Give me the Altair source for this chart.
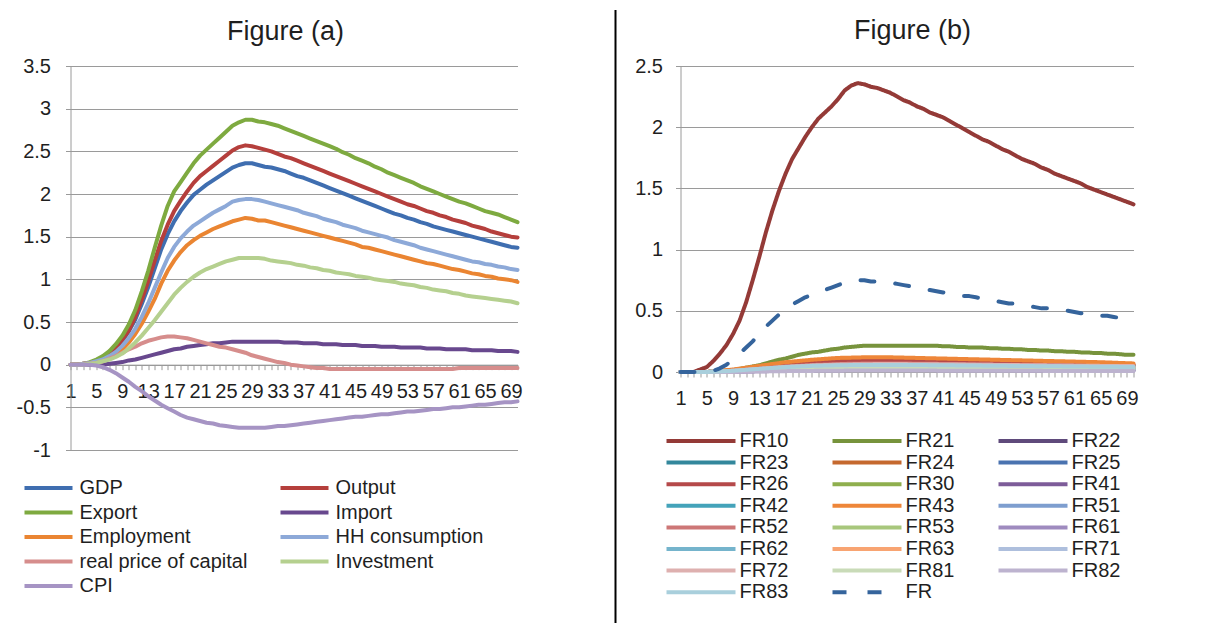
import altair as alt
import pandas as pd

FONT = "Liberation Sans"
TEXT = "#1f1f1f"
GRID = "#9a9a9a"

PERIODS = list(range(1, 71))
# the many small regional responses are read at every fourth period
SPARSE_PERIODS = [1, 5, 9, 13, 17, 21, 25, 29, 33, 37, 41, 45, 49, 53, 57, 61, 65, 70]

# ---------------- Figure (a): macro aggregates ----------------
LEFT_SERIES = ["GDP", "Output", "Export", "Import", "Employment",
               "HH consumption", "real price of capital", "Investment", "CPI"]
LEFT_COLORS = ["#3F6EB0", "#B53F3C", "#7EAA40", "#68488E", "#EA8532",
               "#8DA9D8", "#D68D8C", "#B5D08F", "#A694C4"]

GDP = [0, 0, 0.01, 0.02, 0.04, 0.07, 0.12, 0.19, 0.28, 0.39, 0.53, 0.71, 0.91, 1.13, 1.35,
       1.53, 1.68, 1.8, 1.9, 1.99, 2.05, 2.11, 2.16, 2.21, 2.26, 2.31, 2.34, 2.36, 2.36, 2.34,
       2.32, 2.31, 2.29, 2.27, 2.24, 2.21, 2.19, 2.16, 2.13, 2.1, 2.07, 2.04, 2.01, 1.98, 1.95,
       1.92, 1.89, 1.86, 1.83, 1.8, 1.77, 1.75, 1.72, 1.7, 1.67, 1.65, 1.62, 1.6, 1.58, 1.56,
       1.54, 1.52, 1.5, 1.48, 1.46, 1.44, 1.42, 1.4, 1.38, 1.37]
OUTPUT = [0, 0, 0.01, 0.02, 0.05, 0.08, 0.13, 0.2, 0.29, 0.4, 0.56, 0.76, 0.98, 1.22, 1.45,
          1.64, 1.8, 1.92, 2.03, 2.13, 2.21, 2.27, 2.33, 2.39, 2.45, 2.51, 2.55, 2.57, 2.56, 2.54,
          2.52, 2.5, 2.47, 2.44, 2.42, 2.39, 2.36, 2.33, 2.3, 2.27, 2.24, 2.21, 2.18, 2.15, 2.12,
          2.09, 2.06, 2.03, 2.0, 1.97, 1.94, 1.91, 1.88, 1.86, 1.83, 1.8, 1.78, 1.75, 1.73, 1.7,
          1.68, 1.66, 1.63, 1.61, 1.59, 1.56, 1.54, 1.52, 1.5, 1.49]
EXPORT = [0, 0, 0.01, 0.03, 0.06, 0.1, 0.16, 0.24, 0.34, 0.47, 0.64, 0.86, 1.1, 1.37, 1.63,
          1.86, 2.03, 2.14, 2.25, 2.36, 2.45, 2.52, 2.59, 2.66, 2.73, 2.8, 2.84, 2.87, 2.87, 2.85,
          2.84, 2.82, 2.8, 2.77, 2.74, 2.71, 2.68, 2.65, 2.62, 2.59, 2.56, 2.53, 2.49, 2.46, 2.42,
          2.39, 2.36, 2.32, 2.29, 2.25, 2.22, 2.19, 2.16, 2.13, 2.09, 2.06, 2.03, 2.0, 1.97, 1.94,
          1.91, 1.89, 1.86, 1.83, 1.8, 1.78, 1.76, 1.73, 1.7, 1.67]
IMPORT = [0, 0, 0, 0, 0, 0.0, 0.01, 0.02, 0.03, 0.05, 0.06, 0.08, 0.1, 0.12, 0.14,
          0.16, 0.18, 0.19, 0.21, 0.22, 0.23, 0.24, 0.25, 0.25, 0.26, 0.27, 0.27, 0.27, 0.27, 0.27,
          0.27, 0.27, 0.27, 0.26, 0.26, 0.26, 0.25, 0.25, 0.25, 0.24, 0.24, 0.24, 0.23, 0.23, 0.23,
          0.22, 0.22, 0.22, 0.21, 0.21, 0.21, 0.2, 0.2, 0.2, 0.2, 0.19, 0.19, 0.19, 0.18, 0.18,
          0.18, 0.18, 0.17, 0.17, 0.17, 0.17, 0.16, 0.16, 0.16, 0.15]
EMPLOYMENT = [0, 0, 0.01, 0.02, 0.03, 0.05, 0.08, 0.12, 0.18, 0.26, 0.36, 0.48, 0.62, 0.77, 0.95,
              1.1, 1.22, 1.32, 1.4, 1.46, 1.51, 1.55, 1.59, 1.62, 1.65, 1.68, 1.7, 1.72, 1.71, 1.69,
              1.69, 1.67, 1.65, 1.63, 1.61, 1.59, 1.57, 1.55, 1.53, 1.51, 1.49, 1.47, 1.45, 1.43, 1.41,
              1.38, 1.37, 1.35, 1.33, 1.31, 1.29, 1.27, 1.25, 1.23, 1.21, 1.19, 1.18, 1.16, 1.14, 1.12,
              1.11, 1.09, 1.07, 1.06, 1.04, 1.03, 1.01, 1.0, 0.99, 0.97]
HH_CONSUMPTION = [0, 0, 0.01, 0.02, 0.04, 0.06, 0.1, 0.15, 0.22, 0.31, 0.42, 0.56, 0.72, 0.9, 1.08,
                  1.25, 1.38, 1.48, 1.56, 1.63, 1.68, 1.73, 1.78, 1.82, 1.86, 1.91, 1.93, 1.94, 1.94, 1.93,
                  1.91, 1.89, 1.87, 1.85, 1.83, 1.81, 1.78, 1.76, 1.74, 1.71, 1.69, 1.67, 1.64, 1.62, 1.6,
                  1.57, 1.55, 1.53, 1.51, 1.49, 1.46, 1.44, 1.42, 1.4, 1.37, 1.35, 1.33, 1.31, 1.29, 1.27,
                  1.25, 1.23, 1.21, 1.2, 1.18, 1.17, 1.15, 1.14, 1.12, 1.11]
PRICE_OF_CAPITAL = [0, 0, 0, 0.01, 0.02, 0.04, 0.07, 0.1, 0.14, 0.18, 0.21, 0.25, 0.28, 0.3, 0.32,
                    0.33, 0.33, 0.32, 0.31, 0.29, 0.27, 0.25, 0.23, 0.21, 0.2, 0.18, 0.16, 0.14, 0.11, 0.09,
                    0.07, 0.05, 0.03, 0.02, 0.0, -0.01, -0.02, -0.03, -0.04, -0.04, -0.05, -0.05, -0.05, -0.05, -0.05,
                    -0.05, -0.05, -0.05, -0.05, -0.05, -0.05, -0.05, -0.05, -0.05, -0.05, -0.05, -0.05, -0.05, -0.05, -0.05,
                    -0.04, -0.04, -0.04, -0.04, -0.04, -0.04, -0.04, -0.04, -0.04, -0.04]
INVESTMENT = [0, 0, 0.0, 0.01, 0.02, 0.04, 0.06, 0.09, 0.13, 0.19, 0.26, 0.34, 0.43, 0.52, 0.62,
              0.72, 0.82, 0.9, 0.97, 1.03, 1.08, 1.12, 1.15, 1.18, 1.21, 1.23, 1.25, 1.25, 1.25, 1.25,
              1.24, 1.22, 1.21, 1.2, 1.19, 1.17, 1.16, 1.14, 1.13, 1.11, 1.1, 1.08, 1.07, 1.06, 1.04,
              1.03, 1.02, 1.0, 0.99, 0.98, 0.97, 0.95, 0.94, 0.93, 0.91, 0.9, 0.88, 0.87, 0.86, 0.84,
              0.83, 0.81, 0.8, 0.79, 0.78, 0.77, 0.76, 0.75, 0.74, 0.72]
CPI = [0, 0, 0, 0, -0.01, -0.03, -0.06, -0.1, -0.15, -0.2, -0.26, -0.31, -0.37, -0.42, -0.47,
       -0.51, -0.55, -0.59, -0.62, -0.64, -0.66, -0.68, -0.69, -0.71, -0.72, -0.73, -0.74, -0.74, -0.74, -0.74,
       -0.74, -0.73, -0.72, -0.72, -0.71, -0.7, -0.69, -0.68, -0.67, -0.66, -0.65, -0.64, -0.63, -0.62, -0.61,
       -0.61, -0.6, -0.59, -0.58, -0.58, -0.57, -0.56, -0.55, -0.55, -0.54, -0.53, -0.52, -0.52, -0.51, -0.5,
       -0.5, -0.49, -0.48, -0.47, -0.47, -0.46, -0.45, -0.44, -0.44, -0.43]

LEFT_VALUES = [GDP, OUTPUT, EXPORT, IMPORT, EMPLOYMENT, HH_CONSUMPTION,
               PRICE_OF_CAPITAL, INVESTMENT, CPI]
LEFT_TICKS = [-1, -0.5, 0, 0.5, 1, 1.5, 2, 2.5, 3, 3.5]

# ---------------- Figure (b): regional responses ----------------
RIGHT_SERIES = ["FR10", "FR21", "FR22", "FR23", "FR24", "FR25", "FR26", "FR30",
                "FR41", "FR42", "FR43", "FR51", "FR52", "FR53", "FR61", "FR62",
                "FR63", "FR71", "FR72", "FR81", "FR82", "FR83", "FR"]
RIGHT_COLORS = ["#943A37", "#77933C", "#5F4A7B", "#33879C", "#C5692E", "#4A73B0",
                "#B5494A", "#8FAF4E", "#7D5C99", "#44A3BA", "#EE8639", "#7E9ECF",
                "#CD7777", "#A8C77C", "#9F8BBF", "#75B4CC", "#F8A472", "#AEBFDD",
                "#DEB0AF", "#C9DBB8", "#BDB3CF", "#A9CFDC", "#35649C"]

FR10 = [0, 0, 0.0, 0.02, 0.04, 0.09, 0.15, 0.22, 0.31, 0.42, 0.57, 0.75, 0.94, 1.14, 1.32,
        1.48, 1.62, 1.74, 1.83, 1.92, 2.0, 2.07, 2.12, 2.17, 2.23, 2.3, 2.34, 2.36, 2.35, 2.33,
        2.32, 2.3, 2.28, 2.25, 2.22, 2.2, 2.17, 2.15, 2.12, 2.1, 2.08, 2.05, 2.02, 1.99, 1.96,
        1.93, 1.9, 1.88, 1.85, 1.82, 1.8, 1.77, 1.74, 1.72, 1.7, 1.67, 1.65, 1.62, 1.6, 1.58,
        1.56, 1.54, 1.51, 1.49, 1.47, 1.45, 1.43, 1.41, 1.39, 1.37]
FR21 = [0, 0, 0, 0, 0, 0.0, 0.005, 0.01, 0.015, 0.025, 0.035, 0.045, 0.055, 0.07, 0.085,
        0.1, 0.11, 0.125, 0.14, 0.15, 0.16, 0.165, 0.175, 0.185, 0.19, 0.2, 0.205, 0.21, 0.215, 0.215,
        0.215, 0.215, 0.215, 0.215, 0.215, 0.215, 0.215, 0.215, 0.215, 0.215, 0.21, 0.21, 0.205, 0.205, 0.2,
        0.2, 0.2, 0.195, 0.195, 0.19, 0.19, 0.185, 0.185, 0.18, 0.18, 0.175, 0.175, 0.17, 0.17, 0.165,
        0.165, 0.16, 0.16, 0.155, 0.155, 0.15, 0.15, 0.145, 0.14, 0.14]
FR_TOTAL = [0, 0, 0, 0, 0, 0.01, 0.03, 0.06, 0.1, 0.15, 0.2, 0.25, 0.32, 0.37, 0.42,
            0.47, 0.52, 0.55, 0.58, 0.61, 0.63, 0.65, 0.67, 0.69, 0.71, 0.73, 0.74, 0.75, 0.75, 0.74,
            0.74, 0.73, 0.73, 0.72, 0.71, 0.7, 0.69, 0.68, 0.67, 0.66, 0.65, 0.64, 0.63, 0.62, 0.62,
            0.61, 0.6, 0.59, 0.58, 0.57, 0.56, 0.56, 0.55, 0.54, 0.53, 0.52, 0.52, 0.51, 0.5, 0.5,
            0.49, 0.48, 0.48, 0.47, 0.46, 0.46, 0.45, 0.44, 0.44, 0.43]

# small sectors, values at SPARSE_PERIODS
FR22 = [0, 0, 0.003, 0.008, 0.013, 0.017, 0.02, 0.021, 0.021, 0.02, 0.019, 0.018, 0.017, 0.016, 0.015, 0.014, 0.013, 0.012]
FR23 = [0, 0, 0.01, 0.03, 0.055, 0.072, 0.082, 0.088, 0.088, 0.085, 0.08, 0.076, 0.072, 0.068, 0.064, 0.06, 0.056, 0.052]
FR24 = [0, 0, 0.015, 0.04, 0.07, 0.09, 0.1, 0.105, 0.105, 0.1, 0.095, 0.09, 0.085, 0.08, 0.075, 0.07, 0.065, 0.06]
FR25 = [0, 0, 0.01, 0.03, 0.055, 0.07, 0.08, 0.085, 0.085, 0.082, 0.078, 0.074, 0.07, 0.066, 0.062, 0.058, 0.054, 0.05]
FR26 = [0, 0, 0.01, 0.035, 0.06, 0.075, 0.085, 0.09, 0.09, 0.09, 0.088, 0.085, 0.08, 0.075, 0.07, 0.066, 0.062, 0.058]
FR30 = [0, 0, 0.01, 0.025, 0.04, 0.05, 0.056, 0.06, 0.06, 0.058, 0.056, 0.054, 0.052, 0.05, 0.048, 0.046, 0.044, 0.042]
FR41 = [0, 0, 0.004, 0.01, 0.017, 0.022, 0.026, 0.028, 0.028, 0.027, 0.026, 0.025, 0.024, 0.023, 0.022, 0.021, 0.02, 0.019]
FR42 = [0, 0, 0.008, 0.02, 0.032, 0.04, 0.045, 0.048, 0.048, 0.046, 0.044, 0.042, 0.04, 0.038, 0.036, 0.034, 0.032, 0.03]
FR43 = [0, 0, 0.02, 0.05, 0.08, 0.1, 0.115, 0.12, 0.12, 0.115, 0.11, 0.105, 0.1, 0.095, 0.09, 0.085, 0.08, 0.07]
FR51 = [0, 0, 0.006, 0.015, 0.025, 0.032, 0.036, 0.038, 0.038, 0.037, 0.036, 0.034, 0.032, 0.031, 0.029, 0.028, 0.026, 0.025]
FR52 = [0, 0, 0.01, 0.028, 0.045, 0.057, 0.065, 0.069, 0.07, 0.068, 0.066, 0.063, 0.06, 0.057, 0.054, 0.051, 0.048, 0.045]
FR53 = [0, 0, 0.007, 0.018, 0.03, 0.038, 0.043, 0.046, 0.046, 0.045, 0.043, 0.041, 0.039, 0.037, 0.035, 0.033, 0.031, 0.029]
FR61 = [0, 0, 0.002, 0.006, 0.01, 0.013, 0.015, 0.016, 0.016, 0.016, 0.015, 0.015, 0.014, 0.013, 0.013, 0.012, 0.011, 0.011]
FR62 = [0, 0, 0.008, 0.02, 0.03, 0.038, 0.043, 0.045, 0.045, 0.044, 0.042, 0.04, 0.038, 0.036, 0.034, 0.033, 0.031, 0.029]
FR63 = [0, 0, 0.009, 0.024, 0.038, 0.048, 0.054, 0.057, 0.057, 0.056, 0.054, 0.051, 0.049, 0.046, 0.044, 0.042, 0.04, 0.037]
FR71 = [0, 0, 0.004, 0.012, 0.019, 0.024, 0.027, 0.029, 0.029, 0.028, 0.027, 0.026, 0.025, 0.024, 0.023, 0.022, 0.021, 0.02]
FR72 = [0, 0, 0.01, 0.025, 0.042, 0.053, 0.06, 0.064, 0.065, 0.064, 0.062, 0.06, 0.058, 0.056, 0.054, 0.052, 0.05, 0.048]
FR81 = [0, 0, 0.006, 0.016, 0.026, 0.033, 0.037, 0.039, 0.039, 0.038, 0.037, 0.035, 0.034, 0.032, 0.031, 0.029, 0.028, 0.027]
FR82 = [0, 0, 0.001, 0.004, 0.007, 0.009, 0.011, 0.012, 0.012, 0.012, 0.011, 0.011, 0.01, 0.01, 0.009, 0.009, 0.008, 0.008]
FR83 = [0, 0, 0.01, 0.026, 0.04, 0.05, 0.055, 0.058, 0.058, 0.057, 0.055, 0.053, 0.051, 0.049, 0.047, 0.045, 0.043, 0.041]

RIGHT_VALUES = {
    "FR10": (PERIODS, FR10), "FR21": (PERIODS, FR21), "FR22": (SPARSE_PERIODS, FR22),
    "FR23": (SPARSE_PERIODS, FR23), "FR24": (SPARSE_PERIODS, FR24), "FR25": (SPARSE_PERIODS, FR25),
    "FR26": (SPARSE_PERIODS, FR26), "FR30": (SPARSE_PERIODS, FR30), "FR41": (SPARSE_PERIODS, FR41),
    "FR42": (SPARSE_PERIODS, FR42), "FR43": (SPARSE_PERIODS, FR43), "FR51": (SPARSE_PERIODS, FR51),
    "FR52": (SPARSE_PERIODS, FR52), "FR53": (SPARSE_PERIODS, FR53), "FR61": (SPARSE_PERIODS, FR61),
    "FR62": (SPARSE_PERIODS, FR62), "FR63": (SPARSE_PERIODS, FR63), "FR71": (SPARSE_PERIODS, FR71),
    "FR72": (SPARSE_PERIODS, FR72), "FR81": (SPARSE_PERIODS, FR81), "FR82": (SPARSE_PERIODS, FR82),
    "FR83": (SPARSE_PERIODS, FR83), "FR": (PERIODS, FR_TOTAL),
}
RIGHT_TICKS = [0, 0.5, 1, 1.5, 2, 2.5]

# ---------------- tables ----------------
left_rows = []
for name, vals in zip(LEFT_SERIES, LEFT_VALUES):
    for p, v in zip(PERIODS, vals):
        left_rows.append({"series": name, "period": p, "value": v})
left_df = pd.DataFrame(left_rows)

right_rows = []
for name in RIGHT_SERIES:
    periods, vals = RIGHT_VALUES[name]
    for p, v in zip(periods, vals):
        right_rows.append({"series": name, "period": p, "value": v})
right_df = pd.DataFrame(right_rows)

# ---------------- shared styling ----------------
LEFT_W, LEFT_H = 447, 384
RIGHT_W, RIGHT_H = 453, 306
LEFT_DOMAIN = [-1, 3.5]
RIGHT_DOMAIN = [0, 2.5]

EVERY_FOURTH = "(datum.value - 1) % 4 == 0 ? toString(datum.value) : ''"


def x_axis(offset):
    return alt.Axis(values=PERIODS, labelExpr=EVERY_FOURTH, labelOverlap=False,
                    labelFlush=False, labelAngle=0, labelFont=FONT, labelFontSize=20,
                    labelColor=TEXT, labelPadding=11.5, tickSize=5, tickColor=GRID,
                    domainColor=GRID, grid=False, title=None, offset=offset)


def y_axis(ticks, pad):
    return alt.Axis(values=ticks, labelExpr="toString(datum.value)", labelFont=FONT,
                    labelFontSize=20, labelColor=TEXT, labelPadding=pad, tickSize=5,
                    tickColor=GRID, domainColor=GRID, gridColor=GRID, grid=True,
                    title=None, labelOverlap=False, labelFlush=False)


def heading(text, x, y):
    """Panel heading drawn above the plot area."""
    return alt.Chart(pd.DataFrame({"t": [text]})).mark_text(
        font=FONT, fontSize=27, color=TEXT, align="center", baseline="alphabetic"
    ).encode(text="t:N", x=alt.value(x), y=alt.value(y))


x_scale = alt.Scale(domain=[1, 70], nice=False, zero=False)

# x axis of figure (a) sits on the zero line
zero_shift = -LEFT_H * (0 - LEFT_DOMAIN[0]) / (LEFT_DOMAIN[1] - LEFT_DOMAIN[0])

left_legend = alt.Legend(orient="none", legendX=-48, legendY=412, columns=2,
                         direction="horizontal", title=None, symbolType="stroke",
                         symbolSize=48 * 48, symbolStrokeWidth=4, labelFont=FONT,
                         labelFontSize=20, labelColor=TEXT, labelOffset=5, clipHeight=20,
                         rowPadding=4.5, columnPadding=31, labelLimit=400, padding=0)

left_lines = alt.Chart(left_df).mark_line(strokeWidth=4, strokeCap="round", strokeJoin="round").encode(
    x=alt.X("period:Q", scale=x_scale, axis=x_axis(zero_shift)),
    y=alt.Y("value:Q", scale=alt.Scale(domain=LEFT_DOMAIN, nice=False), axis=y_axis(LEFT_TICKS, 15)),
    color=alt.Color("series:N", scale=alt.Scale(domain=LEFT_SERIES, range=LEFT_COLORS),
                    legend=left_legend),
)
left = alt.layer(left_lines, heading("Figure (a)", 215, -26)).properties(width=LEFT_W, height=LEFT_H)

right_legend = alt.Legend(orient="none", legendX=-16, legendY=365, columns=3,
                          direction="horizontal", title=None, symbolType="stroke",
                          symbolSize=69 * 69, symbolStrokeWidth=4, labelFont=FONT,
                          labelFontSize=20, labelColor=TEXT, labelOffset=2, clipHeight=20,
                          rowPadding=1.6, columnPadding=42, labelLimit=400, padding=0)

dashes = [[1, 0]] * (len(RIGHT_SERIES) - 1) + [[14, 21]]

right_lines = alt.Chart(right_df).mark_line(strokeWidth=4, strokeCap="round", strokeJoin="round").encode(
    x=alt.X("period:Q", scale=x_scale, axis=x_axis(0)),
    y=alt.Y("value:Q", scale=alt.Scale(domain=RIGHT_DOMAIN, nice=False), axis=y_axis(RIGHT_TICKS, 13)),
    color=alt.Color("series:N", scale=alt.Scale(domain=RIGHT_SERIES, range=RIGHT_COLORS),
                    legend=right_legend),
    strokeDash=alt.StrokeDash("series:N", scale=alt.Scale(domain=RIGHT_SERIES, range=dashes),
                              legend=right_legend),
)
right = alt.layer(right_lines, heading("Figure (b)", 232, -27)).properties(width=RIGHT_W, height=RIGHT_H)

# thin panel holding the vertical divider between the two figures
divider = alt.Chart(pd.DataFrame({"k": [0]})).mark_rule(color="black", strokeWidth=2).encode(
    x=alt.value(17), y=alt.value(-56), y2=alt.value(570)
).properties(width=1, height=RIGHT_H)

chart = alt.hconcat(left, divider, right, spacing=81, bounds="flush").resolve_scale(
    color="independent", strokeDash="independent", x="independent", y="independent"
).properties(
    padding={"left": 15.5, "top": 9, "right": 5, "bottom": 0},
    background="white",
).configure_view(stroke=None)

chart.save("out.html", embed_options={"renderer": "svg", "actions": False})
